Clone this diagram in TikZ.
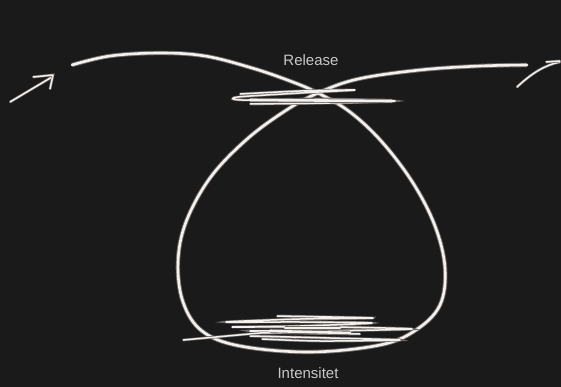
\documentclass[tikz,border=0pt]{standalone}
\usepackage{fontspec}
\setmainfont{Liberation Sans}
\definecolor{board}{HTML}{1A1A1A}
\definecolor{chalk}{HTML}{F4F0EE}
\definecolor{glow}{HTML}{6A6664}
\definecolor{label}{HTML}{C8C8C8}
\begin{document}
\begin{tikzpicture}[x=1pt,y=-1pt,
  chalkline/.style={draw=chalk,line width=2.6pt,line cap=round,line join=round,
    preaction={draw=glow,line width=4.4pt}},
  thinchalk/.style={draw=chalk,line width=1.5pt,line cap=round,line join=round,
    preaction={draw=glow,line width=2.8pt}},
  lbl/.style={text=label,font=\fontsize{15}{18}\selectfont,inner sep=0pt}]
\fill[board] (0,0) rectangle (561,387);
\useasboundingbox (0,0) rectangle (561,387);

% main loop curve
\draw[chalkline] plot[smooth,tension=0.6] coordinates {
 (72,65) (110,56) (160,53) (205,56) (252,68) (290,81) (318,93) (350,112)
 (382,142) (413,183) (435,226) (445,268) (440,305) (416,330) (380,345)
 (310,352) (240,346) (202,331) (183,302) (178,262) (186,222) (210,178)
 (246,140) (285,111) (318,93) (358,79) (420,70) (480,66) (527,65)};

% top scribble
\draw[thinchalk] plot[smooth,tension=0.5] coordinates {
 (240,94) (300,91) (355,90) (300,93) (238,97) (242,100) (320,99) (395,101)
 (330,103) (250,104)};
\draw[chalkline] (250,100) -- (392,101);

% bottom scribble
\draw[thinchalk] plot[smooth,tension=0.5] coordinates {
 (277,316) (373,318) (300,319) (226,322) (300,322) (372,323) (300,326)
 (232,327) (330,327) (412,329) (320,331) (250,331) (300,333) (360,334)};
\draw[thinchalk] (183,340) -- (260,333) -- (350,332);
\draw[chalkline] (270,331) -- (350,333);
\draw[chalkline] (285,328) -- (340,328);
\draw[thinchalk] plot[smooth,tension=0.5] coordinates {
 (250,336) (330,338) (400,340) (320,341) (262,339)};

% arrows
\draw[thinchalk] (10,102) -- (52,77);
\draw[thinchalk] (33,77) -- (53,75) -- (50,89);
\draw[thinchalk] (517,87) .. controls (532,73) and (545,65) .. (560,62);
\draw[thinchalk] (546,62) -- (560,61);

% labels
\node[lbl] (release) at (311,60) {Release};
\node[lbl] (intensitet) at (308,373) {Intensitet};
\end{tikzpicture}
\end{document}
